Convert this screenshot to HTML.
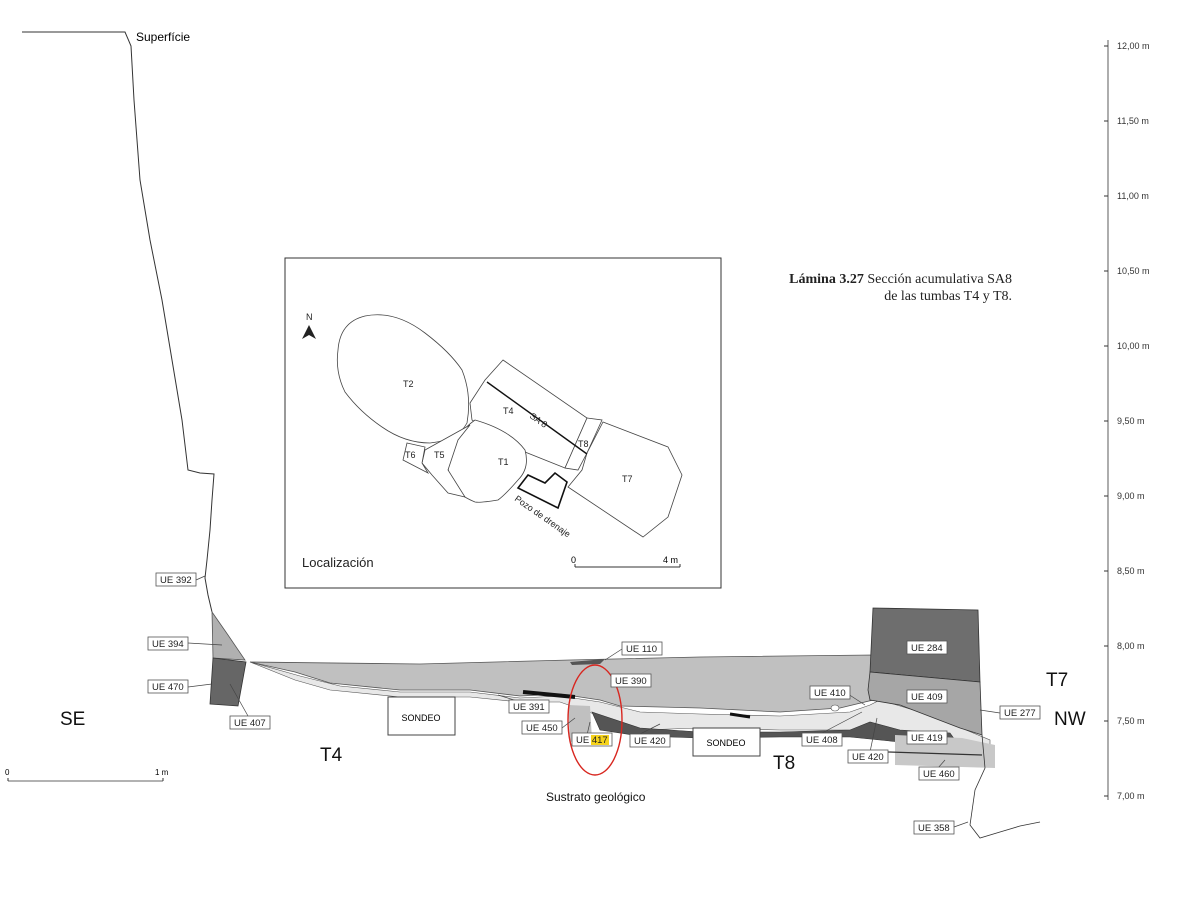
<!DOCTYPE html>
<html><head><meta charset="utf-8"><style>
html,body{margin:0;padding:0;background:#fff;}
svg{display:block;font-family:"Liberation Sans",sans-serif;}
.lb rect{fill:#fff;stroke:#555;stroke-width:0.8}
.lb text{font-size:9.5px;fill:#222}
</style></head><body>
<svg width="1200" height="904" viewBox="0 0 1200 904" xmlns="http://www.w3.org/2000/svg">
<!-- surface profile -->
<polyline points="22,32 125,32 131,46 134,100 140,180 150,240 162,300 172,360 182,420 188,470 200,473 214,474 212,500 210,530 207,560 205,578 208,595 212,612" fill="none" stroke="#333" stroke-width="1"/>
<text x="136" y="41" font-size="12">Superfície</text>

<!-- right axis -->
<line x1="1108" y1="40" x2="1108" y2="800" stroke="#333" stroke-width="0.8"/>
<g font-size="9" fill="#333">
<line x1="1104" y1="46" x2="1108" y2="46" stroke="#333"/><text x="1117" y="49">12,00 m</text>
<line x1="1104" y1="121" x2="1108" y2="121" stroke="#333"/><text x="1117" y="124">11,50 m</text>
<line x1="1104" y1="196" x2="1108" y2="196" stroke="#333"/><text x="1117" y="199">11,00 m</text>
<line x1="1104" y1="271" x2="1108" y2="271" stroke="#333"/><text x="1117" y="274">10,50 m</text>
<line x1="1104" y1="346" x2="1108" y2="346" stroke="#333"/><text x="1117" y="349">10,00 m</text>
<line x1="1104" y1="421" x2="1108" y2="421" stroke="#333"/><text x="1117" y="424">9,50 m</text>
<line x1="1104" y1="496" x2="1108" y2="496" stroke="#333"/><text x="1117" y="499">9,00 m</text>
<line x1="1104" y1="571" x2="1108" y2="571" stroke="#333"/><text x="1117" y="574">8,50 m</text>
<line x1="1104" y1="646" x2="1108" y2="646" stroke="#333"/><text x="1117" y="649">8,00 m</text>
<line x1="1104" y1="721" x2="1108" y2="721" stroke="#333"/><text x="1117" y="724">7,50 m</text>
<line x1="1104" y1="796" x2="1108" y2="796" stroke="#333"/><text x="1117" y="799">7,00 m</text>
</g>

<!-- title -->
<g font-family="Liberation Serif,serif" font-size="14" fill="#222" text-anchor="end">
<text x="1012" y="283"><tspan font-weight="bold">Lámina 3.27</tspan> Sección acumulativa SA8</text>
<text x="1012" y="300">de las tumbas T4 y T8.</text>
</g>

<!-- inset -->
<rect x="285" y="258" width="436" height="330" fill="#fff" stroke="#333" stroke-width="1"/>
<g fill="#fff" stroke="#444" stroke-width="0.8">
<path d="M338,350 Q340,322 365,316 Q395,310 425,333 Q450,352 462,370 Q472,395 467,423 Q458,440 430,443 Q405,443 382,427 Q360,412 345,392 Q335,372 338,350 Z"/>
<polygon points="503,360 587,418 565,468 525,452 472,420 470,403 485,380"/>
<polygon points="587,418 602,420 587,453 578,470 565,468"/>
<polygon points="603,422 668,447 682,475 668,517 643,537 568,487 582,470 587,453"/>
<path d="M475,420 Q510,430 525,450 Q530,468 518,480 Q505,495 498,500 Q480,503 475,502 Q458,495 452,485 Q445,465 450,452 Q458,432 475,420 Z"/>
<polygon points="425,450 470,425 458,440 448,470 465,497 448,493 432,475 422,463"/>
<polygon points="407,443 425,447 422,463 428,473 403,460"/>
</g>
<polygon points="528,475 545,483 555,473 567,482 558,508 518,488" fill="none" stroke="#111" stroke-width="1.6"/>
<line x1="487" y1="382" x2="587" y2="454" stroke="#111" stroke-width="1.4"/>
<g font-size="9" fill="#222">
<text x="403" y="387">T2</text><text x="503" y="414">T4</text>
<text x="530" y="422" transform="rotate(35 537 418)">SA 8</text>
<text x="578" y="447">T8</text><text x="622" y="482">T7</text><text x="498" y="465">T1</text>
<text x="434" y="458">T5</text><text x="405" y="458">T6</text>
<text x="514" y="500" transform="rotate(35 514 500)">Pozo de drenaje</text>
<text x="306" y="320">N</text>
</g>
<polygon points="309,325 302,339 309,335 316,339" fill="#222"/>
<text x="302" y="567" font-size="13" fill="#222">Localización</text>
<line x1="575" y1="567" x2="680" y2="567" stroke="#333"/>
<line x1="575" y1="564" x2="575" y2="567" stroke="#333"/><line x1="680" y1="564" x2="680" y2="567" stroke="#333"/>
<text x="571" y="563" font-size="9">0</text><text x="663" y="563" font-size="9">4 m</text>

<!-- section layers -->
<polygon points="250,662 420,664 570,660 700,657 873,655 873,700 840,708 780,712 700,708 620,706 600,700 560,694 520,696 470,690 400,690 330,683 295,672" fill="#c0c0c0" stroke="#555" stroke-width="0.8"/>
<polygon points="250,662 300,676 340,686 400,692 470,692 520,698 560,696 600,702 640,712 700,714 780,716 850,712 870,705 880,700 930,715 990,740 990,745 900,735 860,730 780,730 700,728 640,730 600,716 560,702 520,702 470,697 400,697 330,690 295,680" fill="#e8e8e8" stroke="#555" stroke-width="0.6"/>
<polygon points="592,712 640,728 700,732 780,732 850,730 870,722 900,730 950,733 955,740 900,742 850,737 780,737 700,738 640,736 600,730" fill="#555" stroke="#333" stroke-width="0.6"/>
<polygon points="873,608 978,610 980,682 870,672" fill="#6e6e6e" stroke="#333" stroke-width="0.8"/>
<polygon points="870,672 980,682 982,735 960,728 900,705 870,700 868,690" fill="#a6a6a6" stroke="#333" stroke-width="0.8"/>
<polygon points="895,735 962,738 995,745 995,768 895,765" fill="#c8c8c8"/>
<line x1="888" y1="752" x2="982" y2="755" stroke="#333" stroke-width="1.2"/>
<polygon points="568,705 590,706 592,740 570,742" fill="#c0c0c0"/>
<polygon points="212,612 228,635 245,660 213,658" fill="#b0b0b0" stroke="#555" stroke-width="0.8"/>
<polygon points="213,658 246,662 238,706 210,704" fill="#666" stroke="#333" stroke-width="0.8"/>
<polygon points="570,662 605,659 600,664 572,665" fill="#555"/>
<path d="M523,692 L575,697" stroke="#111" stroke-width="4"/>
<path d="M730,714 L750,717" stroke="#111" stroke-width="3"/>
<ellipse cx="835" cy="708" rx="4" ry="3" fill="#fff" stroke="#555" stroke-width="0.6"/>
<polyline points="982,735 985,768 975,790 970,825 980,838 1000,832 1020,826 1040,822" fill="none" stroke="#333" stroke-width="0.8"/>

<!-- sondeos -->
<rect x="388" y="697" width="67" height="38" fill="#fff" stroke="#444"/>
<text x="421" y="721" font-size="9" text-anchor="middle">SONDEO</text>
<rect x="693" y="728" width="67" height="28" fill="#fff" stroke="#444"/>
<text x="726" y="746" font-size="9" text-anchor="middle">SONDEO</text>

<ellipse cx="595" cy="720" rx="27" ry="55" fill="none" stroke="#d8261f" stroke-width="1.4"/>

<!-- leaders -->
<g stroke="#444" stroke-width="0.7" fill="none">
<line x1="205" y1="576" x2="196" y2="580"/>
<line x1="188" y1="643" x2="222" y2="645"/>
<line x1="188" y1="687" x2="212" y2="684"/>
<line x1="230" y1="684" x2="248" y2="716"/>
<line x1="537" y1="707" x2="498" y2="695"/>
<line x1="562" y1="728" x2="575" y2="718"/>
<line x1="590" y1="722" x2="587" y2="735"/>
<line x1="622" y1="649" x2="605" y2="660"/>
<line x1="632" y1="738" x2="660" y2="724"/>
<line x1="848" y1="694" x2="865" y2="705"/>
<line x1="822" y1="733" x2="862" y2="712"/>
<line x1="870" y1="752" x2="877" y2="718"/>
<line x1="980" y1="710" x2="1000" y2="713"/>
<line x1="938" y1="768" x2="945" y2="760"/>
<line x1="954" y1="827" x2="968" y2="822"/>
</g>

<!-- labels -->
<g class="lb">
<rect x="156" y="573" width="40" height="13"/><text x="160" y="583">UE 392</text>
<rect x="148" y="637" width="40" height="13"/><text x="152" y="647">UE 394</text>
<rect x="148" y="680" width="40" height="13"/><text x="152" y="690">UE 470</text>
<rect x="230" y="716" width="40" height="13"/><text x="234" y="726">UE 407</text>
<rect x="509" y="700" width="40" height="13"/><text x="513" y="710">UE 391</text>
<rect x="522" y="721" width="40" height="13"/><text x="526" y="731">UE 450</text>
<rect x="572" y="733" width="40" height="13"/>
<rect x="622" y="642" width="40" height="13"/><text x="626" y="652">UE 110</text>
<rect x="611" y="674" width="40" height="13"/><text x="615" y="684">UE 390</text>
<rect x="630" y="734" width="40" height="13"/><text x="634" y="744">UE 420</text>
<rect x="810" y="686" width="40" height="13"/><text x="814" y="696">UE 410</text>
<rect x="802" y="733" width="40" height="13"/><text x="806" y="743">UE 408</text>
<rect x="848" y="750" width="40" height="13"/><text x="852" y="760">UE 420</text>
<rect x="907" y="641" width="40" height="13"/><text x="911" y="651">UE 284</text>
<rect x="907" y="690" width="40" height="13"/><text x="911" y="700">UE 409</text>
<rect x="907" y="731" width="40" height="13"/><text x="911" y="741">UE 419</text>
<rect x="919" y="767" width="40" height="13"/><text x="923" y="777">UE 460</text>
<rect x="1000" y="706" width="40" height="13"/><text x="1004" y="716">UE 277</text>
<rect x="914" y="821" width="40" height="13"/><text x="918" y="831">UE 358</text>
</g>
<rect x="591" y="735" width="18" height="10" fill="#f5d21b"/>
<text x="576" y="743" font-size="9.5" fill="#222">UE 417</text>

<g fill="#111">
<text x="60" y="725" font-size="19">SE</text>
<text x="320" y="761" font-size="19">T4</text>
<text x="773" y="769" font-size="19">T8</text>
<text x="1046" y="686" font-size="19">T7</text>
<text x="1054" y="725" font-size="19">NW</text>
<text x="546" y="801" font-size="12">Sustrato geológico</text>
</g>
<line x1="8" y1="781" x2="163" y2="781" stroke="#333" stroke-width="0.8"/>
<line x1="8" y1="778" x2="8" y2="781" stroke="#333"/><line x1="163" y1="778" x2="163" y2="781" stroke="#333"/>
<text x="5" y="775" font-size="8">0</text><text x="155" y="775" font-size="8">1 m</text>
</svg>
</body></html>
